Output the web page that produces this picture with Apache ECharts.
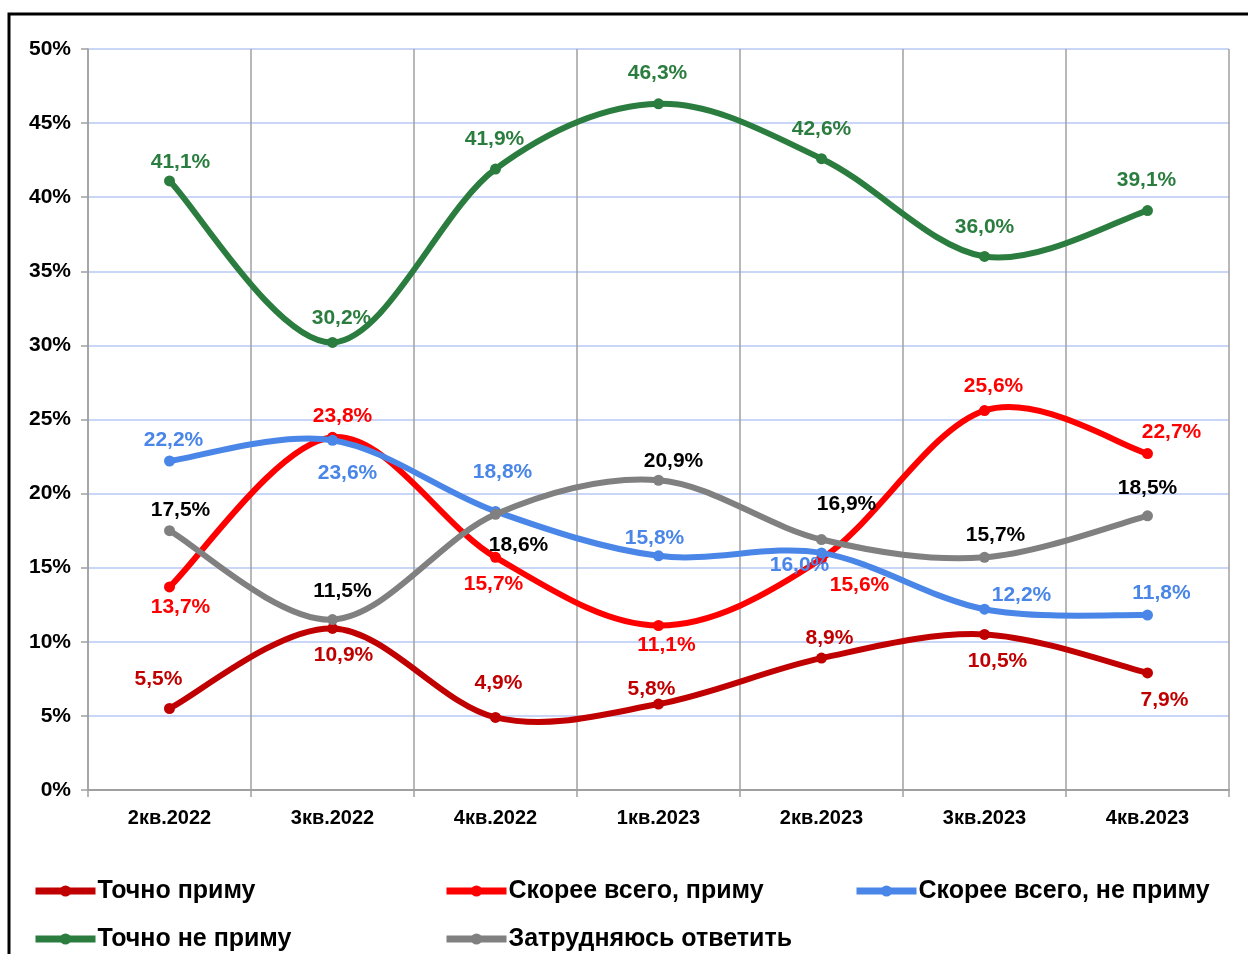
<!DOCTYPE html>
<html>
<head>
<meta charset="utf-8">
<script src="https://cdn.jsdelivr.net/npm/echarts@6/dist/echarts.min.js"></script>
<style>
  html, body { margin: 0; padding: 0; background: #ffffff; }
  #chart { width: 1248px; height: 954px; }
</style>
</head>
<body>
<div id="chart"></div>
<script>
// Quarters on the horizontal axis
const categories = ['2кв.2022', '3кв.2022', '4кв.2022', '1кв.2023', '2кв.2023', '3кв.2023', '4кв.2023'];

// Answer shares, %
const tochnoPrimu    = [5.5, 10.9, 4.9, 5.8, 8.9, 10.5, 7.9];
const skoreePrimu    = [13.7, 23.8, 15.7, 11.1, 15.6, 25.6, 22.7];
const skoreeNePrimu  = [22.2, 23.6, 18.8, 15.8, 16.0, 12.2, 11.8];
const tochnoNePrimu  = [41.1, 30.2, 41.9, 46.3, 42.6, 36.0, 39.1];
const zatrudnyayus   = [17.5, 11.5, 18.6, 20.9, 16.9, 15.7, 18.5];

// Value axis ticks, %
const yTicks = [0, 5, 10, 15, 20, 25, 30, 35, 40, 45, 50];

const seriesNames = ['Точно приму', 'Скорее всего, приму', 'Скорее всего, не приму', 'Точно не приму', 'Затрудняюсь ответить'];

// Styling: line colours, label colours, label offsets from each point
const lineColors  = ['#c00000', '#ff0000', '#4a86e8', '#2a7d3e', '#808080'];
const labelColors = ['#c00000', '#ff0000', '#4a86e8', '#2a7d3e', '#000000'];
const labelOffsets = [
  [[-11, -29], [11, 27], [3, -34], [-7, -15], [8, -20], [13, 27], [17, 27]],
  [[11, 20], [10, -21], [-2, 27], [8, 20], [38, 26], [9, -24], [24, -21]],
  [[4, -21], [15, 33], [7, -39], [-4, -18], [-22, 12], [37, -14], [14, -22]],
  [[11, -19], [9, -24], [-1, -30], [-1, -31], [0, -29], [0, -29], [-1, -30]],
  [[11, -20], [10, -28], [23, 31], [15, -19], [25, -35], [11, -22], [0, -28]]
];
// Legend placement: [left, top]
const legendSpots = [[32, 877], [443, 877], [853, 877], [32, 925], [443, 925]];

const FONT = '"Liberation Sans", Arial, sans-serif';
const LINE_W = 6;
const values = [tochnoPrimu, skoreePrimu, skoreeNePrimu, tochnoNePrimu, zatrudnyayus];

const fmt = v => v.toFixed(1).replace('.', ',') + '%';

// Smooth curve segment between point i and i+1 (cardinal spline, tension 1/6),
// positioned with the chart's own coordinate system.
function curveRenderer(arr, color) {
  const last = arr.length - 1;
  return function (params, api) {
    const i = params.dataIndex;
    if (i >= last) return null;
    const pt = k => {
      const j = Math.max(0, Math.min(last, k));
      return api.coord([j, arr[j]]);
    };
    const p0 = pt(i - 1), p1 = pt(i), p2 = pt(i + 1), p3 = pt(i + 2);
    const t = 1 / 6;
    return {
      type: 'bezierCurve',
      shape: {
        x1: p1[0], y1: p1[1],
        x2: p2[0], y2: p2[1],
        cpx1: p1[0] + (p2[0] - p0[0]) * t,
        cpy1: p1[1] + (p2[1] - p0[1]) * t,
        cpx2: p2[0] - (p3[0] - p1[0]) * t,
        cpy2: p2[1] - (p3[1] - p1[1]) * t
      },
      style: { stroke: color, lineWidth: LINE_W, fill: null, lineCap: 'round' }
    };
  };
}

const series = [];
values.forEach((arr, i) => {
  series.push({
    id: 'curve' + i,
    type: 'custom',
    silent: true,
    z: 2 + 2 * i,
    encode: { x: 0, y: 1 },
    data: arr.map((v, j) => [j, v]),
    renderItem: curveRenderer(arr, lineColors[i])
  });
  series.push({
    name: seriesNames[i],
    type: 'line',
    z: 3 + 2 * i,
    symbol: 'circle',
    symbolSize: 11,
    itemStyle: { color: lineColors[i] },
    lineStyle: { color: lineColors[i], width: LINE_W, opacity: 0 },
    label: {
      show: true,
      position: 'inside',
      color: labelColors[i],
      fontFamily: FONT,
      fontWeight: 'bold',
      fontSize: 21,
      formatter: p => fmt(p.value)
    },
    emphasis: { disabled: true },
    data: arr.map((v, j) => ({ value: v, label: { offset: labelOffsets[i][j] } }))
  });
});

const legends = seriesNames.map((n, i) => ({
  data: [n],
  left: legendSpots[i][0],
  top: legendSpots[i][1],
  padding: 0,
  itemWidth: 60,
  itemHeight: 14,
  selectedMode: false,
  lineStyle: { width: 7, opacity: 1 },
  textStyle: {
    fontFamily: FONT,
    fontWeight: 'bold',
    fontSize: 25,
    color: '#000000',
    lineHeight: 28,
    padding: [0, 0, 0, -3]
  }
}));

const chart = echarts.init(document.getElementById('chart'), null, { renderer: 'canvas' });
chart.setOption({
  animation: false,
  backgroundColor: '#ffffff',
  graphic: [{
    type: 'rect',
    shape: { x: 9, y: 14, width: 1300, height: 1000 },
    style: { fill: 'none', stroke: '#000000', lineWidth: 3 },
    silent: true
  }],
  legend: legends,
  grid: { left: 88, right: 19, top: 49, bottom: 164, containLabel: false },
  xAxis: {
    type: 'category',
    data: categories,
    boundaryGap: true,
    axisLine: { lineStyle: { color: '#a0a0a0', width: 2 } },
    axisTick: { show: true, length: 7, lineStyle: { color: '#a0a0a0', width: 1.5 } },
    splitLine: { show: true, lineStyle: { color: '#a0a0a0', width: 1.5 } },
    axisLabel: {
      margin: 18,
      fontFamily: FONT,
      fontWeight: 'bold',
      fontSize: 20,
      color: '#000000'
    }
  },
  yAxis: {
    type: 'value',
    min: yTicks[0],
    max: yTicks[yTicks.length - 1],
    interval: yTicks[1] - yTicks[0],
    axisLine: { show: true, lineStyle: { color: '#a0a0a0', width: 1.5 } },
    axisTick: { show: true, length: 7, lineStyle: { color: '#a0a0a0', width: 1.5 } },
    splitLine: { show: true, lineStyle: { color: '#b7c9f5', width: 1.5 } },
    axisLabel: {
      margin: 17,
      fontFamily: FONT,
      fontWeight: 'bold',
      fontSize: 21,
      color: '#000000',
      formatter: v => v + '%'
    }
  },
  series: series
});
</script>
</body>
</html>
